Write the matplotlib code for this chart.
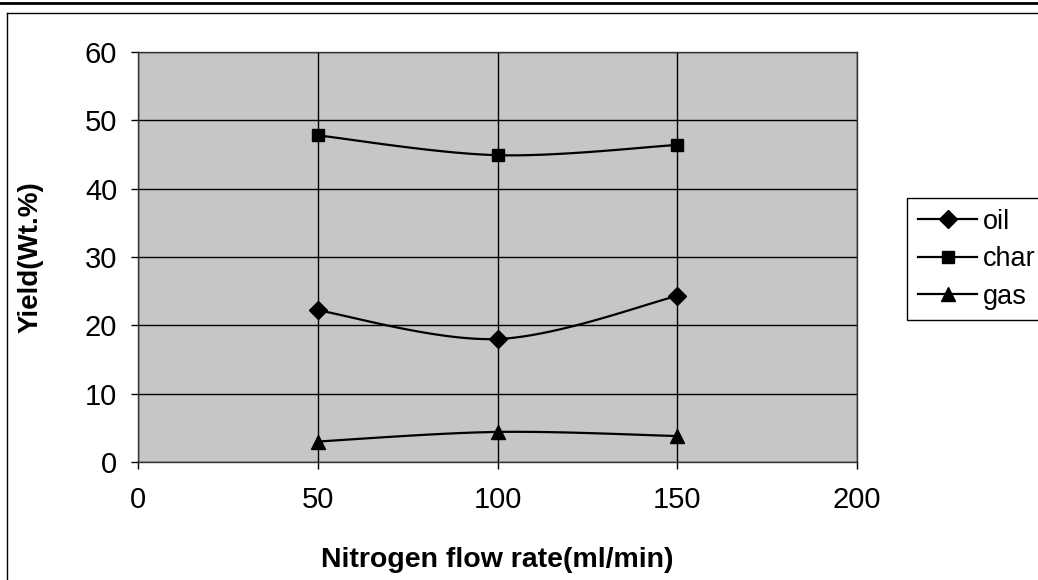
import numpy as np
import matplotlib
matplotlib.use("Agg")
import matplotlib.pyplot as plt
from matplotlib.lines import Line2D

plt.rcParams['font.family'] = ['Liberation Sans', 'DejaVu Sans']

flow = [50, 100, 150]
oil = [22.2, 18.0, 24.3]
char = [47.8, 44.9, 46.4]
gas = [3.0, 4.4, 3.8]
series_names = ["oil", "char", "gas"]
markers = ["D", "s", "^"]
xticks = [0, 50, 100, 150, 200]
yticks = [0, 10, 20, 30, 40, 50, 60]


def smooth(x, y, n=40):
    # Catmull-Rom style smoothing (like spreadsheet "smoothed line")
    x = np.asarray(x, float)
    y = np.asarray(y, float)
    px = np.concatenate([[x[0]], x, [x[-1]]])
    py = np.concatenate([[y[0]], y, [y[-1]]])
    xs, ys = [], []
    t = np.linspace(0, 1, n)
    for i in range(1, len(px) - 2):
        p0 = np.array([px[i], py[i]])
        p3 = np.array([px[i + 1], py[i + 1]])
        c1 = p0 + (np.array([px[i + 1], py[i + 1]]) - np.array([px[i - 1], py[i - 1]])) / 6
        c2 = p3 - (np.array([px[i + 2], py[i + 2]]) - np.array([px[i], py[i]])) / 6
        b = ((1 - t) ** 3)[:, None] * p0 + (3 * (1 - t) ** 2 * t)[:, None] * c1 \
            + (3 * (1 - t) * t ** 2)[:, None] * c2 + (t ** 3)[:, None] * p3
        xs.append(b[:, 0])
        ys.append(b[:, 1])
    return np.concatenate(xs), np.concatenate(ys)


fig = plt.figure(figsize=(10.38, 5.80), dpi=100)
ax = fig.add_axes([138 / 1038, 1 - 462 / 580, (857 - 138) / 1038, (462 - 52) / 580])
ax.set_facecolor('#c6c6c6')
ax.set_xlim(0, 200)
ax.set_ylim(0, 60)
ax.set_xticks(xticks)
ax.set_yticks(yticks)
ax.grid(True, color='black', linewidth=1.0)
ax.set_axisbelow(True)
for s in ax.spines.values():
    s.set_color('#333333')
    s.set_linewidth(1.0)
ax.tick_params(axis='both', direction='out', length=5, width=1, labelsize=21, colors='black')
ax.tick_params(axis='x', pad=12)
ax.tick_params(axis='y', pad=10)

handles = []
for name, vals, m in zip(series_names, [oil, char, gas], markers):
    sx, sy = smooth(flow, vals)
    ax.plot(sx, sy, color='black', linewidth=1.6, zorder=3)
    ms = 9 if m == 'D' else (8.5 if m == 's' else 10)
    ax.plot(flow, vals, linestyle='none', marker=m, markersize=ms, color='black', zorder=4)
    handles.append(Line2D([], [], color='black', linewidth=1.6, marker=m, markersize=ms))

ax.set_xlabel("Nitrogen flow rate(ml/min)", fontsize=20.5, fontweight='bold', labelpad=24)
ax.set_ylabel("Yield(Wt.%)", fontsize=20, fontweight='bold', labelpad=30)

leg = fig.legend(handles, series_names, loc='upper left',
                 bbox_to_anchor=(907 / 1038, 1 - 198 / 580), fontsize=19.5,
                 frameon=True, fancybox=False, edgecolor='black', framealpha=1,
                 handlelength=2.2, handletextpad=0.2, borderpad=0.4,
                 labelspacing=0.42, borderaxespad=0)
leg.get_frame().set_linewidth(1.0)

# figure borders (document frame)
fig.add_artist(Line2D([0, 1], [1 - 3 / 580, 1 - 3 / 580], color='black', linewidth=2.0,
                      transform=fig.transFigure))
fig.add_artist(Line2D([7 / 1038, 1], [1 - 13 / 580, 1 - 13 / 580], color='black', linewidth=1.0,
                      transform=fig.transFigure))
fig.add_artist(Line2D([7 / 1038, 7 / 1038], [0, 1 - 13 / 580], color='black', linewidth=1.0,
                      transform=fig.transFigure))

fig.savefig("out.png", dpi=100)
